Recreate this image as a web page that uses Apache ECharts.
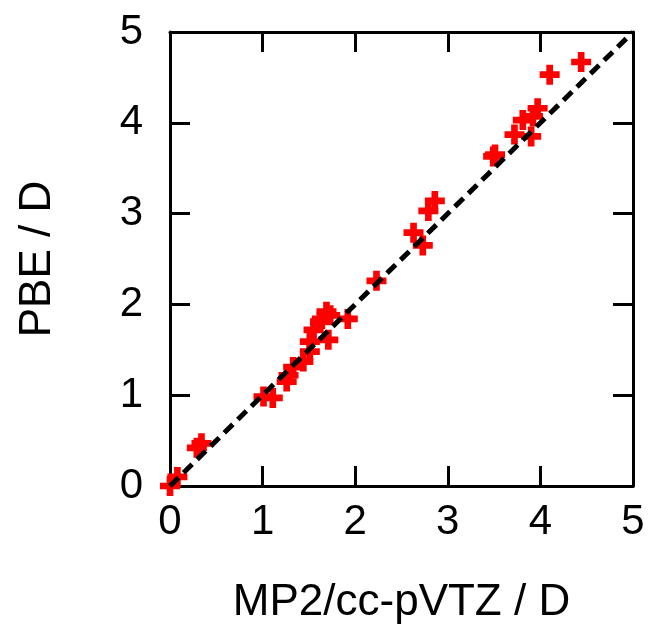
<!DOCTYPE html>
<html>
<head>
<meta charset="utf-8">
<script src="https://cdn.jsdelivr.net/npm/echarts@6/dist/echarts.min.js"></script>
<style>html,body{margin:0;padding:0;background:#fff;}#c{width:658px;height:630px;}</style>
</head>
<body>
<div id="c"></div>
<script>
var mp2 = [0.00, 0.08, 0.29, 0.34, 1.01, 1.11, 1.26, 1.28, 1.33, 1.44, 1.51, 1.51, 1.55, 1.62, 1.64, 1.69, 1.71, 1.73, 1.92, 2.23, 2.63, 2.73, 2.79, 2.86, 3.49, 3.51, 3.72, 3.81, 3.90, 3.92, 3.97, 4.10, 4.44];
var pbe = [0.00, 0.10, 0.42, 0.47, 0.985, 0.97, 1.15, 1.22, 1.31, 1.37, 1.48, 1.59, 1.72, 1.81, 1.84, 1.92, 1.61, 1.88, 1.84, 2.26, 2.79, 2.65, 3.03, 3.14, 3.63, 3.65, 3.87, 4.03, 3.85, 4.07, 4.16, 4.53, 4.67];
var diagX = [0, 5];
var diagY = [0, 5];
var ticks = [0, 1, 2, 3, 4, 5];

var pts = mp2.map(function (x, i) { return [x, pbe[i]]; });
var diag = diagX.map(function (x, i) { return [x, diagY[i]]; });
var FONT = '"Liberation Sans", Arial, sans-serif';

var axisCommon = {
  type: 'value', min: 0, max: 5, interval: 1,
  axisLine: { show: true, onZero: false, lineStyle: { color: '#000', width: 3 } },
  axisTick: { show: true, inside: true, length: 20, lineStyle: { color: '#000', width: 3 } },
  splitLine: { show: false }
};

var chart = echarts.init(document.getElementById('c'));
chart.setOption({
  animation: false,
  backgroundColor: '#fff',
  grid: { left: 170, right: 25, top: 32, bottom: 142, containLabel: false },
  xAxis: [
    Object.assign({}, axisCommon, {
      position: 'bottom',
      name: 'MP2/cc-pVTZ / D', nameLocation: 'middle', nameGap: 95,
      nameTextStyle: { fontSize: 44, color: '#000', fontFamily: FONT },
      axisLabel: { fontSize: 42, color: '#000', fontFamily: FONT, margin: 15 }
    }),
    Object.assign({}, axisCommon, { position: 'top', axisLabel: { show: false } })
  ],
  yAxis: [
    Object.assign({}, axisCommon, {
      position: 'left',
      name: 'PBE / D', nameLocation: 'middle', nameGap: 110, nameRotate: 90,
      nameTextStyle: { fontSize: 44, color: '#000', fontFamily: FONT },
      axisLabel: { fontSize: 42, color: '#000', fontFamily: FONT, margin: 27 }
    }),
    Object.assign({}, axisCommon, { position: 'right', axisLabel: { show: false } })
  ],
  series: [
    {
      type: 'scatter', xAxisIndex: 0, yAxisIndex: 0, data: pts,
      symbol: 'path://M6,0H12V6H18V12H12V18H6V12H0V6H6Z', symbolSize: 20,
      itemStyle: { color: '#ff0000', opacity: 1 }, z: 2
    },
    {
      type: 'line', xAxisIndex: 0, yAxisIndex: 0, data: diag, symbol: 'none',
      lineStyle: { color: '#000', width: 5, type: [12, 7] }, z: 3
    }
  ]
});
</script>
</body>
</html>
